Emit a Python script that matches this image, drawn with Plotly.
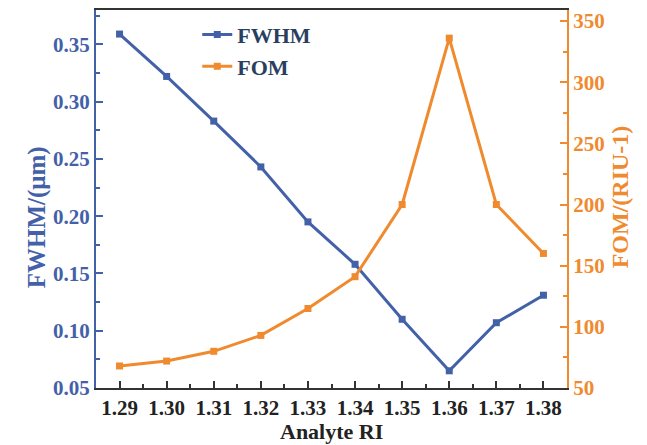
import plotly.graph_objects as go

ri = [1.29, 1.30, 1.31, 1.32, 1.33, 1.34, 1.35, 1.36, 1.37, 1.38]
fwhm = [0.359, 0.322, 0.283, 0.243, 0.195, 0.158, 0.110, 0.065, 0.107, 0.131]
fom = [68, 72, 80, 93, 115, 141, 200, 336, 200, 160]
x_ticks = ri
x_labels = ["%.2f" % v for v in ri]
y1_ticks = [0.05, 0.10, 0.15, 0.20, 0.25, 0.30, 0.35]
y2_ticks = [50, 100, 150, 200, 250, 300, 350]

BLUE = "#4361a8"
ORANGE = "#f08a2e"
FONT = "Liberation Serif"

fig = go.Figure()
fig.add_trace(go.Scatter(x=ri, y=fwhm, name="<b>FWHM</b>", mode="lines+markers",
                         line=dict(color=BLUE, width=3),
                         marker=dict(symbol="square", size=7, color=BLUE)))
fig.add_trace(go.Scatter(x=ri, y=fom, name="<b>FOM</b>", mode="lines+markers", yaxis="y2",
                         line=dict(color=ORANGE, width=3),
                         marker=dict(symbol="square", size=7, color=ORANGE)))

# page body has an 8px default margin; size the figure so it fills the window exactly
fig.update_layout(
    width=639, height=437,
    margin=dict(l=88, r=80, t=2, b=57, autoexpand=False),
    plot_bgcolor="white", paper_bgcolor="white",
    font=dict(family=FONT, size=16),
    showlegend=True,
    legend=dict(x=0.215, y=0.99, xanchor="left", yanchor="top",
                font=dict(family=FONT, size=22),
                bgcolor="rgba(0,0,0,0)", tracegroupgap=0, itemwidth=30),
    xaxis=dict(range=[1.285, 1.385], tickvals=x_ticks, ticktext=["<b>%s</b>" % t for t in x_labels],
               showline=True, linecolor="#333333", linewidth=2, mirror=True,
               ticks="inside", ticklen=7, tickcolor="#333333", tickwidth=1.5,
               minor=dict(ticks="inside", ticklen=4, dtick=0.005, tickcolor="#333333"),
               showgrid=False, zeroline=False, automargin=False,
               tickfont=dict(family=FONT, size=21, color="#222222")),
    yaxis=dict(range=[0.05, 0.38], tickvals=y1_ticks, ticktext=["<b>%.2f</b>" % v for v in y1_ticks],
               showline=True, linecolor=BLUE, linewidth=2,
               ticks="inside", ticklen=7, tickcolor=BLUE, tickwidth=1.5,
               minor=dict(ticks="inside", ticklen=4, dtick=0.025, tickcolor=BLUE),
               showgrid=False, zeroline=False, automargin=False,
               tickfont=dict(family=FONT, size=21, color=BLUE)),
    yaxis2=dict(range=[50, 359], overlaying="y", side="right", tickvals=y2_ticks,
                ticktext=["<b>%d</b>" % v for v in y2_ticks],
                showline=True, linecolor=ORANGE, linewidth=2,
                ticks="inside", ticklen=7, tickcolor=ORANGE, tickwidth=1.5,
                minor=dict(ticks="inside", ticklen=4, dtick=25, tickcolor=ORANGE),
                showgrid=False, zeroline=False, automargin=False,
                tickfont=dict(family=FONT, size=21, color=ORANGE)),
    annotations=[
        dict(text="<b>Analyte RI</b>", xref="paper", yref="paper", x=0.5, y=-0.116,
             xanchor="center", yanchor="middle", showarrow=False,
             font=dict(family=FONT, size=22, color="#222222")),
        dict(text="<b>FWHM/(μm)</b>", xref="paper", yref="paper", x=-0.125, y=0.452,
             xanchor="center", yanchor="middle", showarrow=False, textangle=-90,
             font=dict(family=FONT, size=25, color=BLUE)),
        dict(text="<b>FOM/(RIU-1)</b>", xref="paper", yref="paper", x=1.113, y=0.505,
             xanchor="center", yanchor="middle", showarrow=False, textangle=-90,
             font=dict(family=FONT, size=24, color=ORANGE)),
    ],
)

fig.write_html("out.html")
